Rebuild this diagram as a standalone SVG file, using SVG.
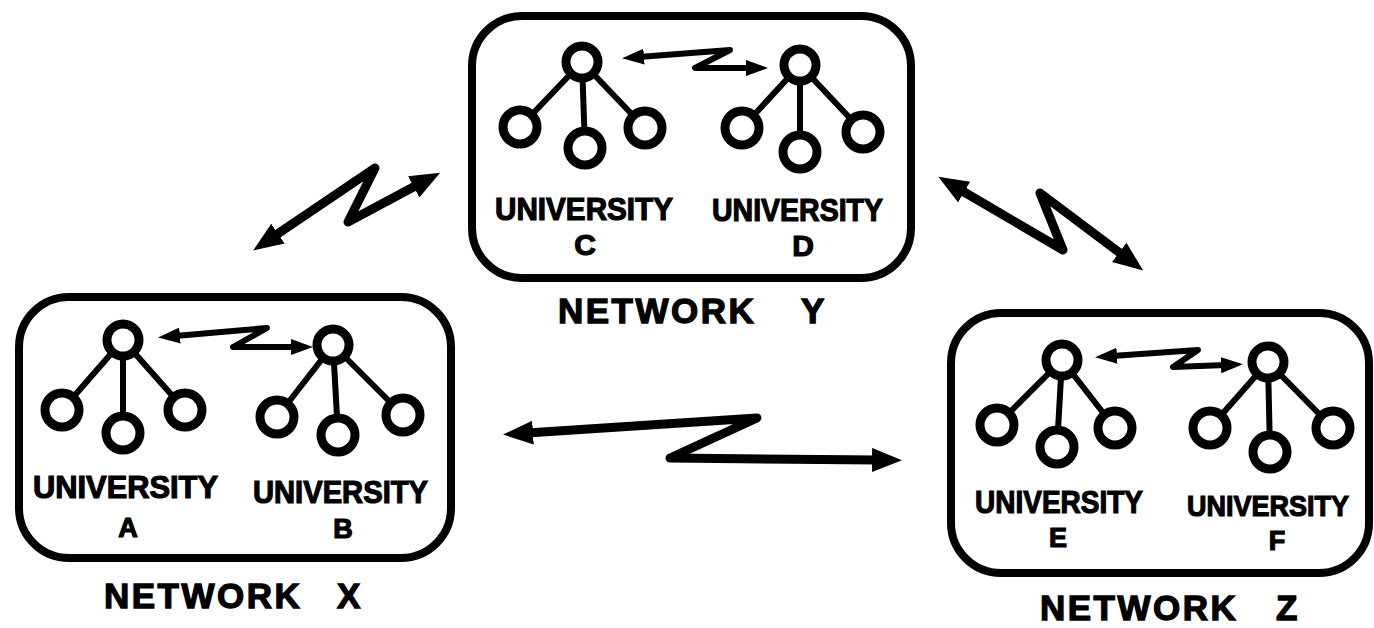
<svg xmlns="http://www.w3.org/2000/svg" width="1374" height="628" viewBox="0 0 1374 628">
<style>
.box{fill:none;stroke:#000;stroke-width:8}
.edge{stroke:#000;stroke-width:6;stroke-linecap:round}
.node{fill:#fff;stroke:#000;stroke-width:9}
.uni{font-family:"Liberation Sans",Arial,sans-serif;font-weight:bold;font-size:32px;fill:#000;stroke:#000;stroke-width:1.2px}
.let{font-family:"Liberation Sans",Arial,sans-serif;font-weight:bold;font-size:27px;fill:#000;stroke:#000;stroke-width:1.2px;text-anchor:middle}
.net{font-family:"Liberation Sans",Arial,sans-serif;font-weight:bold;font-size:35px;fill:#000;stroke:#000;stroke-width:1.3px;letter-spacing:2.5px}
.big{fill:none;stroke:#000;stroke-width:9;stroke-linejoin:round;marker-start:url(#bigHead);marker-end:url(#bigHead)}
.small{fill:none;stroke:#000;stroke-width:6;stroke-linejoin:round;marker-start:url(#smallHead);marker-end:url(#smallHead)}
</style>
<defs>
<marker id="bigHead" markerUnits="userSpaceOnUse" markerWidth="32" markerHeight="26" refX="6" refY="12" orient="auto-start-reverse"><path d="M0,0 L30,12 L0,24 z" fill="#000"/></marker>
<marker id="smallHead" markerUnits="userSpaceOnUse" markerWidth="24" markerHeight="18" refX="5" refY="8" orient="auto-start-reverse"><path d="M0,0 L22,8 L0,16 z" fill="#000"/></marker>
</defs>
<rect width="1374" height="628" fill="#fff"/>

<g id="network-y">
<rect class="box" x="472" y="16" width="439" height="262" rx="50"/>
<g id="univ-c">
<line class="edge" x1="582" y1="62" x2="520" y2="127"/><line class="edge" x1="582" y1="62" x2="585" y2="148"/><line class="edge" x1="582" y1="62" x2="645" y2="128"/>
<circle class="node" cx="582" cy="62" r="16"/><circle class="node" cx="520" cy="127" r="17"/><circle class="node" cx="585" cy="148" r="17"/><circle class="node" cx="645" cy="128" r="17"/>
<text class="uni" x="495" y="220" textLength="178" lengthAdjust="spacingAndGlyphs">UNIVERSITY</text>
<text class="let" x="585" y="255" style="font-size:30px">C</text>
</g>
<g id="univ-d">
<line class="edge" x1="800" y1="65" x2="742" y2="128"/><line class="edge" x1="800" y1="65" x2="800" y2="152"/><line class="edge" x1="800" y1="65" x2="863" y2="132"/>
<circle class="node" cx="800" cy="65" r="16"/><circle class="node" cx="742" cy="128" r="17"/><circle class="node" cx="800" cy="152" r="17"/><circle class="node" cx="863" cy="132" r="17"/>
<text class="uni" x="712" y="221" textLength="171" lengthAdjust="spacingAndGlyphs">UNIVERSITY</text>
<text class="let" x="803" y="256" style="font-size:30px">D</text>
</g>
<text class="net" x="558" y="323">NETWORK<tspan x="801">Y</tspan></text>
</g>

<g id="network-x">
<rect class="box" x="19" y="297" width="432" height="261" rx="50"/>
<g id="univ-a">
<line class="edge" x1="123" y1="340" x2="62" y2="410"/><line class="edge" x1="123" y1="340" x2="123" y2="433"/><line class="edge" x1="123" y1="340" x2="185" y2="410"/>
<circle class="node" cx="123" cy="340" r="16"/><circle class="node" cx="62" cy="410" r="17"/><circle class="node" cx="123" cy="433" r="17"/><circle class="node" cx="185" cy="410" r="17"/>
<text class="uni" x="33" y="498" textLength="185" lengthAdjust="spacingAndGlyphs">UNIVERSITY</text>
<text class="let" x="128" y="537">A</text>
</g>
<g id="univ-b">
<line class="edge" x1="333" y1="345" x2="277" y2="417"/><line class="edge" x1="333" y1="345" x2="338" y2="435"/><line class="edge" x1="333" y1="345" x2="403" y2="415"/>
<circle class="node" cx="333" cy="345" r="16"/><circle class="node" cx="277" cy="417" r="17"/><circle class="node" cx="338" cy="435" r="17"/><circle class="node" cx="403" cy="415" r="17"/>
<text class="uni" x="253" y="503" textLength="175" lengthAdjust="spacingAndGlyphs">UNIVERSITY</text>
<text class="let" x="343" y="538">B</text>
</g>
<text class="net" x="104" y="608">NETWORK<tspan x="337">X</tspan></text>
</g>

<g id="network-z">
<rect class="box" x="951" y="313" width="418" height="260" rx="50"/>
<g id="univ-e">
<line class="edge" x1="1062" y1="360" x2="997" y2="425"/><line class="edge" x1="1062" y1="360" x2="1057" y2="447"/><line class="edge" x1="1062" y1="360" x2="1115" y2="428"/>
<circle class="node" cx="1062" cy="360" r="16"/><circle class="node" cx="997" cy="425" r="17"/><circle class="node" cx="1057" cy="447" r="17"/><circle class="node" cx="1115" cy="428" r="17"/>
<text class="uni" x="975" y="513" textLength="168" lengthAdjust="spacingAndGlyphs">UNIVERSITY</text>
<text class="let" x="1058" y="547">E</text>
</g>
<g id="univ-f">
<line class="edge" x1="1268" y1="362" x2="1210" y2="428"/><line class="edge" x1="1268" y1="362" x2="1270" y2="452"/><line class="edge" x1="1268" y1="362" x2="1333" y2="428"/>
<circle class="node" cx="1268" cy="362" r="16"/><circle class="node" cx="1210" cy="428" r="17"/><circle class="node" cx="1270" cy="452" r="17"/><circle class="node" cx="1333" cy="428" r="17"/>
<text class="uni" x="1187" y="516" textLength="162" lengthAdjust="spacingAndGlyphs" style="font-size:30px">UNIVERSITY</text>
<text class="let" x="1277" y="550">F</text>
</g>
<text class="net" x="1040" y="620">NETWORK<tspan x="1276">Z</tspan></text>
</g>

<g id="connectors">
<path class="big" d="M273,237 L375,168 L348,222 L419,184"/>
<path class="big" d="M527,433 L757,418 L670,458 L878,460"/>
<path class="big" d="M959,189 L1063,250 L1040,193 L1124,256"/>
<path class="small" d="M639,57 L730,50 L695,68 L751,68"/>
<path class="small" d="M175,336 L267,328 L233,347 L296,347"/>
<path class="small" d="M1112,356 L1198,350 L1173,367 L1226,365"/>
</g>
</svg>
